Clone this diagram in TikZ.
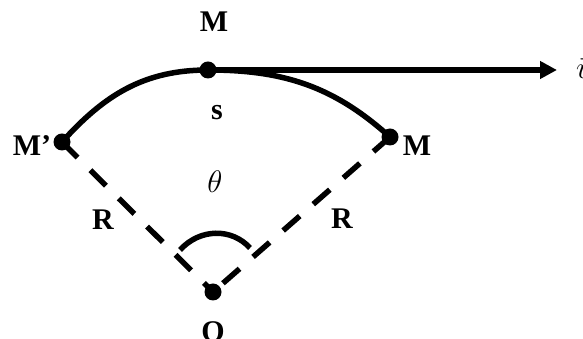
\documentclass[tikz,border=0pt]{standalone}
\usepackage{fontspec}
\setmainfont{Liberation Serif}
\usetikzlibrary{arrows.meta}
\begin{document}
\begin{tikzpicture}[x=1pt,y=1pt,
  dot/.style={circle,fill=black,inner sep=0pt,minimum size=17pt},
  lbl/.style={font=\fontsize{30}{36}\selectfont\bfseries, inner sep=0pt},
  mlbl/.style={font=\fontsize{20}{24}\selectfont, inner sep=0pt},
  radiusline/.style={line width=5.5pt, dash pattern=on 22pt off 18pt},
  curveline/.style={line width=5.5pt},
  arrowline/.style={line width=6pt,-{Triangle[length=17pt,width=17pt]}}]
\useasboundingbox (0,0) rectangle (583,339);
% points
\coordinate (o) at (213,47);
\coordinate (mp) at (62,197);
\coordinate (t) at (208,269);
\coordinate (mr) at (390,202);
\coordinate (vend) at (557,269);
\coordinate (aL) at (180,89);
\coordinate (aR) at (250,91);
% radii
\draw[radiusline] (mp) -- (o);
\draw[radiusline] (mr) -- (o);
% arc
\draw[curveline] (mp) to[out=48,in=180] (t) to[out=0,in=138] (mr);
% angle mark
\draw[curveline] (aL) .. controls (200,111) and (232,111) .. (aR);
% velocity
\draw[arrowline] (t) -- (vend);
% dots
\node[dot] (O) at (o) {};
\node[dot] (Mp) at (mp) {};
\node[dot] (T) at (t) {};
\node[dot] (Mr) at (mr) {};
% labels
\node[lbl] (lMt) at (214,317) {M};
\node[lbl] (ls) at (217,226) {s};
\node[lbl] (lMp) at (32,193) {M’};
\node[lbl] (lMr) at (417,193) {M};
\node[mlbl] (lth) at (215,157) {\scalebox{1.5}{$\theta$}};
\node[lbl] (lRl) at (103,119) {R};
\node[lbl] (lRr) at (342,120) {R};
\node[lbl] (lO) at (213,7) {O};
\node[mlbl,anchor=west] (lv) at (576,272) {\scalebox{1.5}{$\vec{v}$}};
\end{tikzpicture}
\end{document}
